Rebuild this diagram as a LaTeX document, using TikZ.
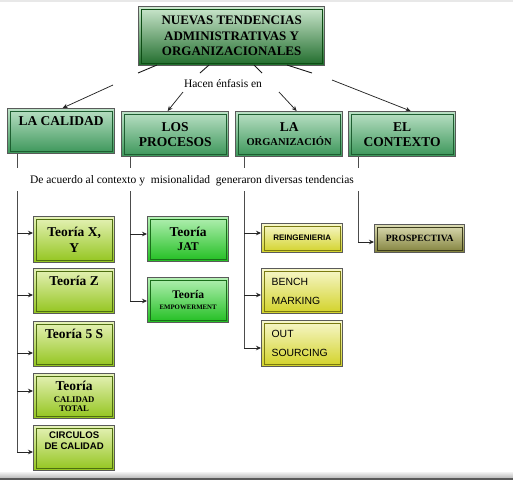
\documentclass[tikz,border=0pt]{standalone}
\usepackage{fontspec}
\setmainfont{Liberation Serif}
\newfontfamily\arial{Liberation Sans}
\usetikzlibrary{arrows.meta,calc}
\definecolor{bordergray}{HTML}{5A5A5A}
\definecolor{tgTop}{HTML}{CDE8CF}\definecolor{tgBot}{HTML}{1E6B2A}\definecolor{tgIn}{HTML}{0D4D14}
\definecolor{rgTop}{HTML}{BBE1C6}\definecolor{rgBot}{HTML}{3A9558}\definecolor{rgIn}{HTML}{1D5E30}
\definecolor{limeTop}{HTML}{E6F2B8}\definecolor{limeBot}{HTML}{92C41C}\definecolor{limeIn}{HTML}{4E6E10}
\definecolor{jatTop}{HTML}{B4F0B4}\definecolor{jatBot}{HTML}{20BE20}\definecolor{jatIn}{HTML}{1A6E1A}
\definecolor{yelTop}{HTML}{F7F7CC}\definecolor{yelBot}{HTML}{D2D226}\definecolor{yelIn}{HTML}{7A7A10}
\definecolor{proTop}{HTML}{DCDCB4}\definecolor{proBot}{HTML}{80803A}\definecolor{proIn}{HTML}{3C3C1C}
\tikzset{
  cbox/.style={draw=bordergray, line width=1.3pt, anchor=north west, inner sep=0pt, align=center,
    path picture={\draw[line width=0.8pt, draw=#1]
      ([shift={(2.4pt,2.4pt)}]path picture bounding box.south west) rectangle
      ([shift={(-2.4pt,-2.4pt)}]path picture bounding box.north east);}},
  titlebox/.style={cbox=tgIn, top color=tgTop, bottom color=tgBot},
  rowbox/.style={cbox=rgIn, top color=rgTop, bottom color=rgBot, minimum width=107pt, minimum height=45pt,
    font=\fontsize{13.5}{15}\selectfont\bfseries},
  limebox/.style={cbox=limeIn, top color=limeTop, bottom color=limeBot, minimum width=81pt, minimum height=45pt,
    font=\fontsize{13.5}{16}\selectfont\bfseries},
  jatbox/.style={cbox=jatIn, top color=jatTop, bottom color=jatBot, minimum width=81pt, minimum height=45pt,
    font=\fontsize{13.5}{14}\selectfont\bfseries},
  yelbox/.style={cbox=yelIn, top color=yelTop, bottom color=yelBot, minimum width=81pt},
  probox/.style={cbox=proIn, top color=proTop, bottom color=proBot, minimum width=90pt, minimum height=28pt,
    font=\fontsize{9.6}{11}\selectfont\bfseries},
  lbl/.style={inner sep=0pt, font=\fontsize{11.5}{13}\selectfont},
  arr/.style={-{Stealth[length=5pt,width=4.5pt]}, line width=0.75pt, draw=black!85},
  link/.style={line width=0.9pt, draw=black!90},
  trunk/.style={line width=0.8pt, draw=black!70},
}
\begin{document}
\begin{tikzpicture}[x=1pt,y=-1pt]
\useasboundingbox (0,0) rectangle (513,480);
% screen edges
\fill[gray!18] (0,0) rectangle (513,2);
\shade[top color=gray!10, bottom color=gray!55] (0,472) rectangle (513,478);
\fill[black!65] (0,478) rectangle (513,480);

% title
\node[titlebox, minimum width=186pt, minimum height=59pt, font=\fontsize{13}{15.5}\selectfont\bfseries]
  (title) at (138,6) {NUEVAS TENDENCIAS\\ADMINISTRATIVAS Y\\ORGANIZACIONALES};

% row 2
\node[rowbox] (calidad) at (7,108) {LA CALIDAD\\\strut};
\node[rowbox] (procesos) at (121,111) {LOS\\PROCESOS};
\node[rowbox] (org) at (235,111) {LA\\[-1pt]{\fontsize{10.5}{12}\selectfont ORGANIZACIÓN}};
\node[rowbox] (contexto) at (348,111) {EL\\CONTEXTO};

% link phrase
\node[lbl] (hacen) at (223,84) {Hacen énfasis en};
\coordinate (s1) at (157,65); \coordinate (g1a) at (138,73); \coordinate (g1b) at (113,85);
\coordinate (s2) at (209,65); \coordinate (g2a) at (200,73); \coordinate (g2b) at (183,92);
\coordinate (s3) at (254,65); \coordinate (g3a) at (262,73); \coordinate (g3b) at (279,92);
\coordinate (s4) at (287,65); \coordinate (g4a) at (312,73); \coordinate (g4b) at (332,80);
\draw[link] (s1) -- (g1a);
\draw[link] (s2) -- (g2a);
\draw[link] (s3) -- (g3a);
\draw[link] (s4) -- (g4a);
\draw[link,arr] (g1b) -- ([xshift=1.5pt]calidad.north);
\draw[link,arr] (g2b) -- ([xshift=-7.5pt]procesos.north);
\draw[link,arr] (g3b) -- ([xshift=7.5pt]org.north);
\draw[link,arr] (g4b) -- ([xshift=8.5pt]contexto.north);

% second phrase
\node[lbl] (acuerdo) at (192,181) {De acuerdo al contexto y \ misionalidad \ generaron diversas tendencias};

% column 1
\node[limebox, minimum height=46pt] (tXY) at (33,216) {Teoría X,\\Y};
\node[limebox] (tZ) at (33,268) {Teoría Z\\\strut};
\node[limebox] (t5S) at (33,321) {Teoría 5 S\\\strut};
\node[limebox] (tCT) at (33,373) {Teoría\\[-4.6pt]{\fontsize{8.7}{9.5}\selectfont CALIDAD}\\[-7pt]{\fontsize{8.7}{9.5}\selectfont TOTAL}};
\node[limebox, font=\arial\fontsize{9.6}{11.5}\selectfont\bfseries] (circ) at (33,425) {CIRCULOS\\DE CALIDAD\\\strut};

% column 2
\node[jatbox] (tJAT) at (147,216) {Teoría\\{\fontsize{11.8}{13}\selectfont JAT}};
\node[jatbox, font=\fontsize{11.6}{14}\selectfont\bfseries] (tEMP) at (147,277) {Teoría\\[-3.5pt]{\fontsize{6.8}{8}\selectfont EMPOWERMENT}};

% column 3
\node[yelbox, minimum height=29pt, font=\arial\fontsize{8}{9}\selectfont\bfseries] (reing) at (261,223) {REINGENIERIA};
\node[yelbox, minimum height=45pt, text width=61pt, align=left, font=\arial\fontsize{10.4}{19}\selectfont] (bench) at (261,268) {BENCH\\MARKING};
\node[yelbox, minimum height=46pt, text width=61pt, align=left, font=\arial\fontsize{10.4}{19}\selectfont] (out) at (261,320) {OUT\\SOURCING};

% column 4
\node[probox] (pros) at (374,224) {PROSPECTIVA};

% trunks
\coordinate (k1a) at (17,168); \coordinate (k1b) at (17,191); \coordinate (k1e) at (17,452);
\coordinate (k2a) at (130,168); \coordinate (k2b) at (130,191); \coordinate (k2e) at (130,301);
\coordinate (k3a) at (244,168); \coordinate (k3b) at (244,191); \coordinate (k3e) at (244,348);
\coordinate (k4a) at (358,168); \coordinate (k4b) at (358,191); \coordinate (k4e) at (358,242);
\draw[trunk] (calidad.south -| k1a) -- (k1a);
\draw[trunk] (procesos.south -| k2a) -- (k2a);
\draw[trunk] (org.south -| k3a) -- (k3a);
\draw[trunk] (contexto.south -| k4a) -- (k4a);
\draw[trunk] (k1b) -- (k1e);
\draw[trunk] (k2b) -- (k2e);
\draw[trunk] (k3b) -- (k3e);
\draw[trunk] (k4b) -- (k4e);

% branch arrows
\draw[arr] (k1b |- 0,233) -- (tXY.west |- 0,233);
\draw[arr] (k1b |- 0,295) -- (tZ.west |- 0,295);
\draw[arr] (k1b |- 0,353) -- (t5S.west |- 0,353);
\draw[arr] (k1b |- 0,391) -- (tCT.west |- 0,391);
\draw[arr] (k1e) -- (circ.west |- k1e);
\draw[arr] (k2b |- 0,234) -- (tJAT.west |- 0,234);
\draw[arr] (k2e) -- (tEMP.west |- k2e);
\draw[arr] (k3b |- 0,233) -- (reing.west |- 0,233);
\draw[arr] (k3b |- 0,295) -- (bench.west |- 0,295);
\draw[arr] (k3e) -- (out.west |- k3e);
\draw[arr] (k4e) -- (pros.west |- k4e);
\end{tikzpicture}
\end{document}
